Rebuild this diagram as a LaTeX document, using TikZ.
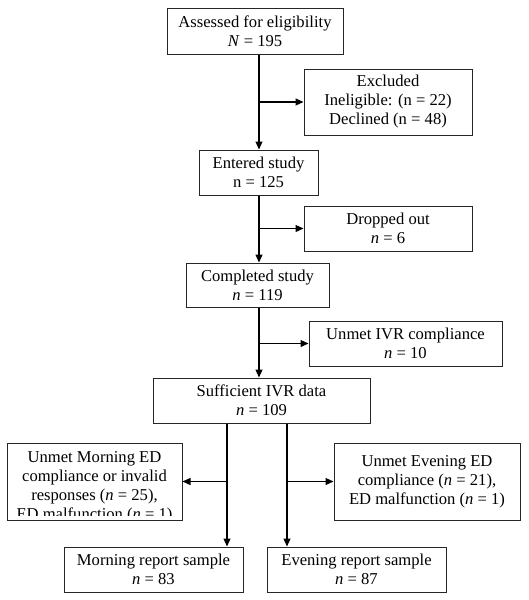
\documentclass[tikz,border=0pt]{standalone}
\usepackage{fontspec}
\setmainfont{Liberation Serif}
\usetikzlibrary{arrows.meta}
\begin{document}
\begin{tikzpicture}[x=1pt,y=-1pt,
  box/.style={draw=black!85,line width=1pt,align=center,inner sep=0pt,
    font=\fontsize{16.6}{19}\selectfont},
  arr/.style={line width=1.2pt,-{Triangle[length=8pt,width=7pt]}}]
\useasboundingbox (0,0) rectangle (529,600);
\node[box,minimum width=176,minimum height=46] (b1) at (255,31) {Assessed for eligibility\\\textit{N} = 195};
\node[box,minimum width=168,minimum height=66] (ex) at (388,102) {Excluded\\Ineligible: (n = 22)\\Declined (n = 48)};
\node[box,minimum width=119,minimum height=45] (b2) at (258.5,172.5) {Entered study\\n = 125};
\node[box,minimum width=168,minimum height=45] (dr) at (388,228.5) {Dropped out\\\textit{n} = 6};
\node[box,minimum width=143,minimum height=44] (b3) at (257.5,285) {Completed study\\\textit{n} = 119};
\node[box,minimum width=193,minimum height=45] (ivr) at (405.5,343.5) {Unmet IVR compliance\\\textit{n} = 10};
\node[box,minimum width=217,minimum height=45] (b4) at (261.5,400.5) {Sufficient IVR data\\\textit{n} = 109};
% morning exclusion box (text clipped by the box)
\node[draw=black!85,line width=1pt,minimum width=175,minimum height=77,inner sep=0pt] (mex) at (94.5,481.5) {};
\begin{scope}
\clip (8,444) rectangle (181,515);
\node[anchor=north,align=center,inner sep=0pt,font=\fontsize{16.6}{19}\selectfont] (mext) at (94.5,451) {Unmet Morning ED\\compliance or invalid\\responses (\textit{n} = 25),\\ED malfunction (\textit{n} = 1)};
\end{scope}
\node[box,minimum width=186,minimum height=77] (eex) at (427,481.5) {Unmet Evening ED\\compliance (\textit{n} = 21),\\ED malfunction (\textit{n} = 1)};
\node[box,minimum width=179,minimum height=45] (ms) at (153.5,569.5) {Morning report sample\\\textit{n} = 83};
\node[box,minimum width=179,minimum height=45] (es) at (356.5,569.5) {Evening report sample\\\textit{n} = 87};
\coordinate (c) at (259,0);
\coordinate (mL) at (227,0);
\coordinate (eR) at (287,0);
\draw[arr] (b1.south -| c) -- (b2.north -| c);
\draw[arr] (c |- ex.west) -- (ex.west);
\draw[arr] (b2.south -| c) -- (b3.north -| c);
\draw[arr] (c |- dr.west) -- (dr.west);
\draw[arr] (b3.south -| c) -- (b4.north -| c);
\draw[arr] (c |- ivr.west) -- (ivr.west);
\draw[arr] (b4.south -| mL) -- (ms.north -| mL);
\draw[arr] (mL |- mex.east) -- (mex.east);
\draw[arr] (b4.south -| eR) -- (es.north -| eR);
\draw[arr] (eR |- eex.west) -- (eex.west);
\end{tikzpicture}
\end{document}
